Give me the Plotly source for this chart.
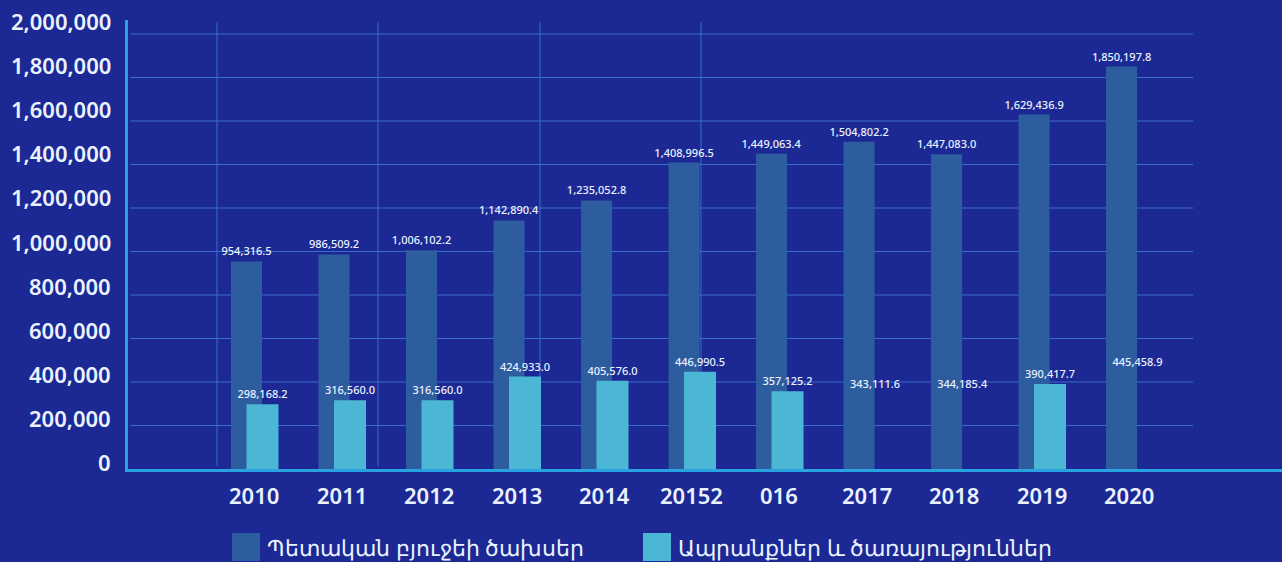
import plotly.graph_objects as go

# Yearly figures (thousand AMD)
years = ["2010", "2011", "2012", "2013", "2014", "20152", "016", "2017", "2018", "2019", "2020"]
budget_spending = [954316.5, 986509.2, 1006102.2, 1142890.4, 1235052.8, 1408996.5,
                   1449063.4, 1504802.2, 1447083.0, 1629436.9, 1850197.8]
goods_services = [298168.2, 316560.0, 316560.0, 424933.0, 405576.0, 446990.5,
                  357125.2, 343111.6, 344185.4, 390417.7, 445458.9]
# bars that are left unfilled (only their value is printed)
goods_hidden = [False, False, False, False, False, False, False, True, True, False, True]

y_ticks = [0, 200000, 400000, 600000, 800000, 1000000, 1200000, 1400000,
           1600000, 1800000, 2000000]

series_names = ["Պետական բյուջեի ծախսեր", "Ապրանքներ և ծառայություններ"]

BG = "#1c2994"
DARK = "#2d5c9f"
LIGHT = "#4bb7d5"
GRID = "#3a6dcc"
AXIS = "#29a2e2"
TXT = "#eaf2ff"
FONT = "Noto Sans"

pos = list(range(len(years)))

fig = go.Figure()

fig.add_trace(go.Bar(
    x=pos, y=budget_spending, name=series_names[0],
    width=0.355, offset=-0.177,
    marker=dict(color=DARK, line=dict(width=0)),
    texttemplate="%{y:,.1f}", textposition="outside", constraintext="none",
    textfont=dict(size=11, color=TXT, family=FONT, weight=500),
    cliponaxis=False, showlegend=False,
))

fig.add_trace(go.Bar(
    x=pos, y=goods_services, name=series_names[1],
    width=0.366, offset=0.0,
    marker=dict(color=["rgba(0,0,0,0)" if h else LIGHT for h in goods_hidden],
                line=dict(width=0)),
    texttemplate="%{y:,.1f}", textposition="outside", constraintext="none",
    textfont=dict(size=11, color=TXT, family=FONT, weight=500),
    cliponaxis=False, showlegend=False,
))

shapes = []
# horizontal grid
for v in y_ticks[1:]:
    shapes.append(dict(type="line", xref="paper", yref="y", x0=0.002, x1=0.923,
                       y0=v, y1=v, line=dict(color=GRID, width=1.2), layer="below"))
# faint vertical guides
for xp in [0.0771, 0.2166, 0.3570, 0.4965]:
    shapes.append(dict(type="line", xref="paper", yref="paper", x0=xp, x1=xp,
                       y0=0.007, y1=0.995, line=dict(color=GRID, width=1), layer="below"))

annotations = []
# y tick labels
for v in y_ticks:
    annotations.append(dict(x=0, xref="paper", y=v, yref="y", text=f"{v:,}",
                            xanchor="right", yanchor="middle", xshift=-15,
                            yshift=7 + 6 * v / 2000000,
                            showarrow=False,
                            font=dict(size=22, color=TXT, family=FONT, weight=600)))
# category labels
for i, yr in enumerate(years):
    annotations.append(dict(x=i + 0.09, xref="x", y=0, yref="paper", text=yr,
                            xanchor="center", yanchor="middle", yshift=-26,
                            showarrow=False,
                            font=dict(size=22, color=TXT, family=FONT, weight=600)))

# legend drawn by hand with large swatches
legend_items = [(series_names[0], DARK, 232), (series_names[1], LIGHT, 643)]
for name, col, px in legend_items:
    x0 = (px - 128) / 1154
    x1 = (px + 28 - 128) / 1154
    shapes.append(dict(type="rect", xref="paper", yref="paper", x0=x0, x1=x1,
                       y0=(469 - 561) / 449, y1=(469 - 533) / 449,
                       fillcolor=col, line=dict(width=0)))
    annotations.append(dict(x=(px + 33 - 128) / 1154, xref="paper",
                            y=(469 - 547) / 449, yref="paper", text=name,
                            xanchor="left", yanchor="middle", showarrow=False,
                            font=dict(size=22, color=TXT, family=FONT)))

fig.update_layout(
    width=1282, height=562,
    margin=dict(l=128, r=0, t=20, b=93),
    paper_bgcolor=BG, plot_bgcolor=BG,
    barmode="overlay",
    showlegend=False,
    xaxis=dict(range=[-1.354, 11.834], showgrid=False, zeroline=False,
               showticklabels=False, showline=True, linecolor=AXIS, linewidth=3,
               fixedrange=True),
    yaxis=dict(range=[0, 2064368], showgrid=False, zeroline=False,
               showticklabels=False, showline=True, linecolor=AXIS, linewidth=3,
               tickvals=y_ticks, fixedrange=True),
    shapes=shapes,
    annotations=annotations,
    font=dict(family=FONT, color=TXT),
)

fig.write_html("out.html")
